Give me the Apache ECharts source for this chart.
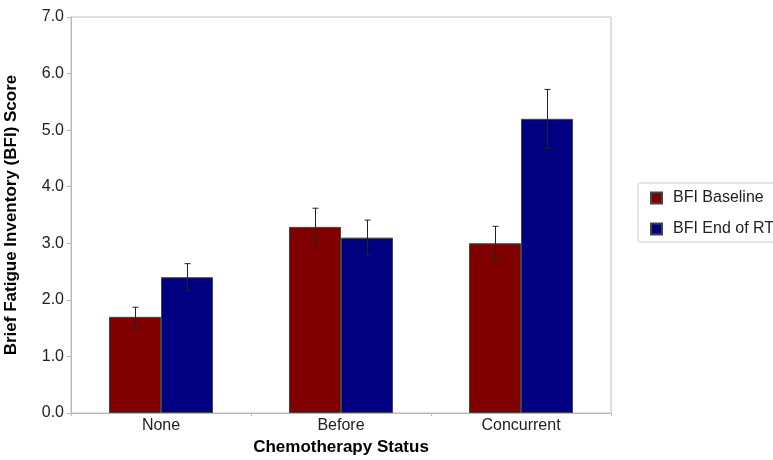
<!DOCTYPE html>
<html><head><meta charset="utf-8">
<script src="https://cdn.jsdelivr.net/npm/echarts@6/dist/echarts.min.js"></script>
<style>html,body{margin:0;padding:0;background:#fff}#c{width:773px;height:460px}</style>
</head><body><div id="c"></div>
<script>
const categories = ['None', 'Before', 'Concurrent'];
const seriesNames = ['BFI Baseline', 'BFI End of RT'];
const baseline = [1.70, 3.29, 3.00];
const endRT = [2.40, 3.10, 5.20];
const baselineErr = [0.17, 0.33, 0.30];
const endRTErr = [0.24, 0.31, 0.52];
const yTicks = [0, 1, 2, 3, 4, 5, 6, 7];

const chart = echarts.init(document.getElementById('c'));
const BAR_FRAC = 0.289;
function errSeries(vals, errs, side) {
  return {
    type: 'custom',
    silent: true,
    z: 5,
    data: vals.map((v, i) => [i, v - errs[i], v + errs[i]]),
    renderItem: function (params, api) {
      const band = api.size([1, 0])[0];
      const off = side * band * BAR_FRAC / 2;
      const lo = api.coord([api.value(0), api.value(1)]);
      const hi = api.coord([api.value(0), api.value(2)]);
      const x = Math.round(lo[0] + off) + 0.5;
      const cap = 3;
      const st = { stroke: '#222', lineWidth: 1 };
      return {
        type: 'group',
        children: [
          { type: 'line', shape: { x1: x, y1: lo[1], x2: x, y2: hi[1] }, style: st },
          { type: 'line', shape: { x1: x - cap, y1: lo[1], x2: x + cap, y2: lo[1] }, style: st },
          { type: 'line', shape: { x1: x - cap, y1: hi[1], x2: x + cap, y2: hi[1] }, style: st }
        ]
      };
    }
  };
}
chart.setOption({
  animation: false,
  textStyle: { fontFamily: 'Liberation Sans, Arial, sans-serif' },
  grid: { left: 71, right: 162, top: 17, bottom: 47, show: true, borderColor: '#c0c0c0', borderWidth: 1,
          containLabel: false, outerBoundsMode: 'none' },
  legend: {
    orient: 'vertical', left: 638, top: 183,
    data: seriesNames,
    itemWidth: 11, itemHeight: 11, itemGap: 15,
    icon: 'rect',
    borderColor: '#ccc', borderWidth: 1, borderRadius: 2,
    padding: [7, 20, 5, 12],
    textStyle: { fontSize: 16, color: '#222', padding: [0, 0, 0, 6] }
  },
  xAxis: {
    type: 'category', data: categories,
    name: 'Chemotherapy Status', nameLocation: 'middle', nameGap: 21,
    nameTextStyle: { fontSize: 17, fontWeight: 'bold', color: '#000' },
    axisLine: { lineStyle: { color: '#b8b8b8', width: 1 } },
    axisTick: { show: true, length: 3, lineStyle: { color: '#b8b8b8' } },
    axisLabel: { fontSize: 16, color: '#222', margin: 5 }
  },
  yAxis: {
    type: 'value', min: 0, max: 7, interval: 1,
    name: 'Brief Fatigue Inventory (BFI) Score', nameLocation: 'middle', nameGap: 51,
    nameTextStyle: { fontSize: 17, fontWeight: 'bold', color: '#000' },
    axisLine: { show: true, lineStyle: { color: '#b8b8b8', width: 1 } },
    axisTick: { show: true, length: 4, lineStyle: { color: '#b8b8b8' } },
    splitLine: { show: false },
    axisLabel: { fontSize: 16, color: '#222', margin: 7, formatter: v => yTicks.includes(v) ? v.toFixed(1) : '' }
  },
  series: [
    { name: seriesNames[0], type: 'bar', data: baseline, barWidth: (BAR_FRAC * 100) + '%', barGap: '0%',
      itemStyle: { color: '#800000', borderColor: '#444', borderWidth: 1 } },
    { name: seriesNames[1], type: 'bar', data: endRT, barWidth: (BAR_FRAC * 100) + '%', barGap: '0%',
      itemStyle: { color: '#000080', borderColor: '#444', borderWidth: 1 } },
    errSeries(baseline, baselineErr, -1),
    errSeries(endRT, endRTErr, 1)
  ]
});
</script></body></html>
